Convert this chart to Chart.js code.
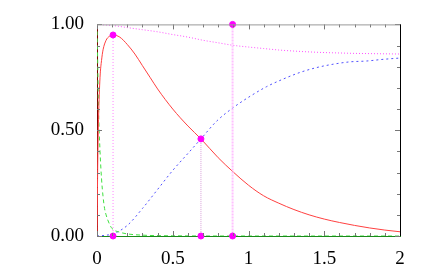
<!DOCTYPE html>
<html>
<head>
<meta charset="utf-8">
<script src="https://cdn.jsdelivr.net/npm/chart.js@4"></script>
<style>
  html, body { margin: 0; padding: 0; background: #fff; }
  #chart { display: block; }
</style>
</head>
<body>
<canvas id="chart" width="436" height="273"></canvas>
<script>
// values
const redT   = [0, 0.005, 0.01, 0.02, 0.03, 0.04, 0.06, 0.08, 0.106, 0.15, 0.2, 0.25, 0.3, 0.35, 0.4, 0.5, 0.6, 0.686, 0.8, 0.9, 1.0, 1.1, 1.2, 1.3, 1.4, 1.5, 1.6, 1.7, 1.8, 1.9, 2.0]
const redV   = [0, 0.35, 0.55, 0.75, 0.83, 0.88, 0.925, 0.943, 0.95, 0.94, 0.905, 0.86, 0.805, 0.75, 0.695, 0.6, 0.52, 0.459, 0.37, 0.302, 0.24, 0.19, 0.155, 0.125, 0.1, 0.08, 0.064, 0.05, 0.038, 0.028, 0.02]

const greenT = [0, 0.005, 0.01, 0.02, 0.03, 0.04, 0.05, 0.06, 0.08, 0.1, 0.15, 0.2, 0.3, 0.5, 1.0, 1.5, 2.0]
const greenV = [1.0, 0.8, 0.6, 0.4, 0.27, 0.186, 0.13, 0.1, 0.06, 0.035, 0.018, 0.01, 0.004, 0.001, 0, 0, 0]

const blueT  = [0, 0.05, 0.106, 0.2, 0.3, 0.4, 0.5, 0.6, 0.686, 0.79, 0.896, 1.01, 1.12, 1.23, 1.34, 1.45, 1.56, 1.67, 1.78, 1.89, 2.0]
const blueV  = [0, 0.003, 0.01, 0.05, 0.13, 0.22, 0.31, 0.39, 0.459, 0.543, 0.605, 0.66, 0.706, 0.742, 0.773, 0.796, 0.812, 0.823, 0.827, 0.835, 0.841]

const pinkT  = [0, 0.1, 0.2, 0.3, 0.4, 0.5, 0.6, 0.7, 0.8, 0.9, 1.0, 1.1, 1.2, 1.3, 1.4, 1.5, 1.6, 1.7, 1.8, 1.9, 2.0]
const pinkV  = [1.0, 0.995, 0.985, 0.975, 0.965, 0.952, 0.94, 0.925, 0.913, 0.901, 0.893, 0.886, 0.879, 0.874, 0.87, 0.867, 0.865, 0.863, 0.862, 0.861, 0.86]

// marked points
const markT  = [0.106, 0.106, 0.686, 0.686, 0.895, 0.895]
const markV  = [0.95, 0, 0.459, 0, 1.0, 0]

const xTicks = [0, 0.5, 1, 1.5, 2]
const yTicks = [0, 0.5, 1]

const pts = (t, v) => t.map((x, i) => ({x: x, y: v[i]}))

// inward ticks and frame, like the original plot
const frame = {
  id: "frame",
  afterDatasetsDraw(chart) {
    const {ctx, chartArea: a, scales: {x, y}} = chart
    ctx.save()
    ctx.lineWidth = 1
    ctx.strokeStyle = "#777"
    for (let i = 0; i <= 20; i++) {
      const v = i / 10
      const px = Math.round(x.getPixelForValue(v)) + 0.5
      const len = i % 5 == 0 ? 5 : 3
      ctx.beginPath()
      ctx.moveTo(px, a.bottom); ctx.lineTo(px, a.bottom - len)
      ctx.moveTo(px, a.top); ctx.lineTo(px, a.top + len)
      ctx.stroke()
    }
    for (let i = 0; i <= 10; i++) {
      const v = i / 10
      const py = Math.round(y.getPixelForValue(v)) + 0.5
      const len = i % 5 == 0 ? 5 : 3
      ctx.beginPath()
      ctx.moveTo(a.left, py); ctx.lineTo(a.left + len, py)
      ctx.moveTo(a.right, py); ctx.lineTo(a.right - len, py)
      ctx.stroke()
    }
    ctx.strokeStyle = "#999"
    ctx.beginPath(); ctx.moveTo(a.left, a.top + 0.5); ctx.lineTo(a.right, a.top + 0.5); ctx.stroke()
    ctx.strokeStyle = "#000"
    ctx.beginPath(); ctx.moveTo(a.right + 0.5, a.top); ctx.lineTo(a.right + 0.5, a.bottom); ctx.stroke()
    ctx.restore()
  }
}

const canvas = document.getElementById("chart")
new Chart(canvas, {
  type: "scatter",
  data: {
    datasets: [
      {
        data: pts(markT, markV),
        showLine: false,
        pointRadius: 3,
        pointBackgroundColor: "#ff00ff",
        pointBorderColor: "#ff00ff",
        clip: false
      },
      {
        data: pts([markT[0], markT[1]], [markV[0], markV[1]]),
        showLine: true, pointRadius: 0,
        borderColor: "#ff80ff", borderWidth: 1, borderDash: [1, 2]
      },
      {
        data: pts([markT[2], markT[3]], [markV[2], markV[3]]),
        showLine: true, pointRadius: 0,
        borderColor: "#d8a0d8", borderWidth: 1, borderDash: [1, 1]
      },
      {
        data: pts([markT[4], markT[5]], [markV[4], markV[5]]),
        showLine: true, pointRadius: 0,
        borderColor: "#ffc0ff", borderWidth: 2, borderDash: [2, 1]
      },
      {
        data: pts(redT, redV),
        showLine: true, pointRadius: 0, cubicInterpolationMode: "monotone",
        borderColor: "#ff4040", borderWidth: 1
      },
      {
        data: pts(greenT, greenV),
        showLine: true, pointRadius: 0, cubicInterpolationMode: "monotone",
        borderColor: "#40e040", borderWidth: 1, borderDash: [4, 3]
      },
      {
        data: pts(blueT, blueV),
        showLine: true, pointRadius: 0, cubicInterpolationMode: "monotone",
        borderColor: "#5050ff", borderWidth: 1, borderDash: [2, 3]
      },
      {
        data: pts(pinkT, pinkV),
        showLine: true, pointRadius: 0, cubicInterpolationMode: "monotone",
        borderColor: "#ff50ff", borderWidth: 1, borderDash: [1, 2]
      }
    ]
  },
  options: {
    responsive: false,
    animation: false,
    layout: { padding: { top: 22, right: 36, left: 0, bottom: 0 } },
    plugins: { legend: { display: false }, tooltip: { enabled: false } },
    scales: {
      x: {
        type: "linear", min: 0, max: 2,
        afterBuildTicks: s => { s.ticks = xTicks.map(v => ({value: v})) },
        afterFit: s => { s.height = 37 },
        grid: { display: false, drawTicks: false },
        border: { color: "#1a8a1a", width: 1 },
        ticks: {
          color: "#000", padding: 12, font: { family: "Liberation Serif", size: 19 },
          callback: v => String(v)
        }
      },
      y: {
        type: "linear", min: 0, max: 1,
        afterBuildTicks: s => { s.ticks = yTicks.map(v => ({value: v})) },
        afterFit: s => { s.width = 97 },
        grid: { display: false, drawTicks: false },
        border: { color: "#800000", width: 1 },
        ticks: {
          color: "#000", padding: 13, font: { family: "Liberation Serif", size: 19 },
          callback: v => v.toFixed(2)
        }
      }
    }
  },
  plugins: [frame]
})
</script>
</body>
</html>
